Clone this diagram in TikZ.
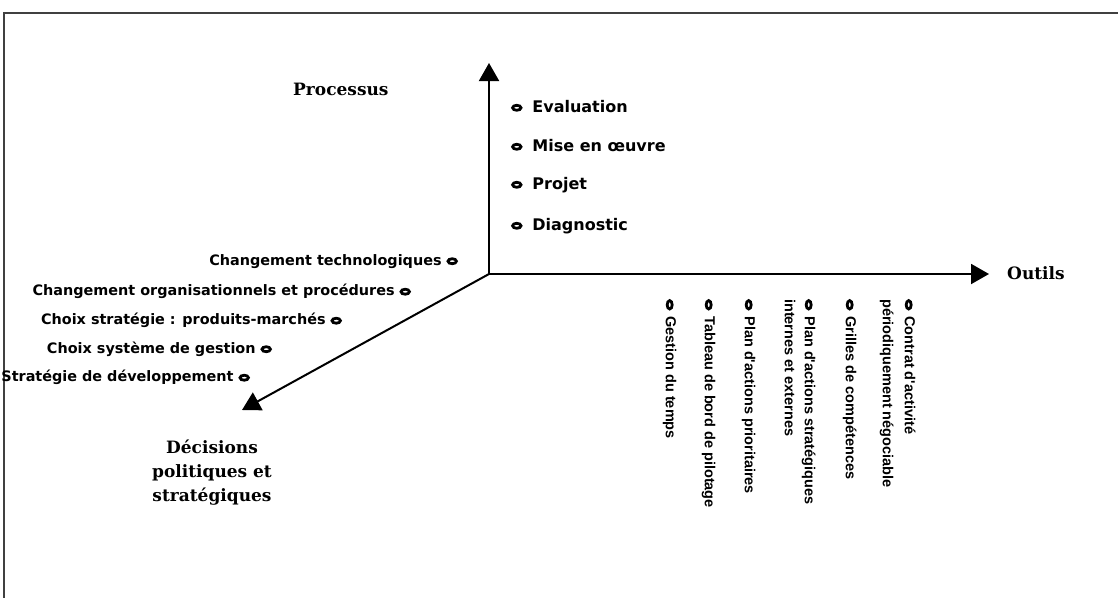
\documentclass[tikz,border=0pt]{standalone}
\usepackage{fontspec}
\usetikzlibrary{arrows.meta}
\newfontfamily\axsans{DejaVu Sans}
\newfontfamily\itsans{Liberation Sans}
\newfontfamily\axserif{DejaVu Serif}
\newcommand\bul{\tikz[baseline=-0.5ex]\draw[line width=2.8pt] (0,0) ellipse [x radius=4.2pt, y radius=2.5pt];}
\begin{document}
\begin{tikzpicture}[x=1pt,y=-1pt,
  axis/.style={line width=2pt, -{Triangle[width=20pt,length=18pt]}},
  lab/.style={font=\axserif\bfseries\fontsize{17}{24}\selectfont, inner sep=0pt},
  ritem/.style={font=\axsans\bfseries\fontsize{16}{18}\selectfont, inner sep=0pt, anchor=mid west},
  litem/.style={font=\axsans\bfseries\fontsize{14.4}{18}\selectfont, inner sep=0pt, anchor=mid east},
  vitem/.style={font=\itsans\bfseries\fontsize{14.5}{18}\selectfont, inner sep=0pt, anchor=mid west, rotate=-90},
  frame/.style={line width=1.6pt, black!75}]
\useasboundingbox (0,0) rectangle (1118,598);
% frame
\coordinate (fr1) at (1118,13);
\coordinate (fr2) at (4,13);
\coordinate (fr3) at (4,598);
\draw[frame] (fr1) -- (fr2) -- (fr3);
% axes
\coordinate (O) at (489,274);
\coordinate (P) at (489,63);
\coordinate (T) at (989,274);
\coordinate (D) at (242,410);
\draw[axis] (O) -- (P);
\draw[axis] (O) -- (T);
\draw[axis] (O) -- (D);
% axis labels
\node[lab, anchor=mid west] (proc) at (293,93) {Processus};
\node[lab, anchor=mid west] (outils) at (1007,277) {Outils};
\node[lab, anchor=north, align=center] (dec) at (212,440) {Décisions\\politiques et\\stratégiques};
% process items
\node[ritem] (ev) at (511,110) {\bul\hspace{10pt}Evaluation};
\node[ritem] (mo) at (511,149) {\bul\hspace{10pt}Mise en œuvre};
\node[ritem] (pr) at (511,187) {\bul\hspace{10pt}Projet};
\node[ritem] (di) at (511,228) {\bul\hspace{10pt}Diagnostic};
% decision items
\node[litem] (d1) at (458,263) {Changement technologiques\hspace{5pt}\bul};
\node[litem] (d2) at (411,293.5) {Changement organisationnels et procédures\hspace{5pt}\bul};
\node[litem] (d3) at (342,322.5) {Choix stratégie : produits-marchés\hspace{5pt}\bul};
\node[litem] (d4) at (272,351) {Choix système de gestion\hspace{5pt}\bul};
\node[litem] (d5) at (250,379.5) {Stratégie de développement\hspace{5pt}\bul};
% tool items
\node[vitem] (t1) at (668,299) {\bul\hspace{6pt}Gestion du temps};
\node[vitem] (t2) at (707,299) {\bul\hspace{6pt}Tableau de bord de pilotage};
\node[vitem] (t3) at (747,299) {\bul\hspace{6pt}Plan d'actions prioritaires};
\node[vitem] (t4) at (807,299) {\bul\hspace{6pt}Plan d'actions stratégiques};
\node[vitem] (t4b) at (787,299) {internes et externes};
\node[vitem] (t5) at (848,299) {\bul\hspace{6pt}Grilles de compétences};
\node[vitem] (t6) at (907,299) {\bul\hspace{6pt}Contrat d'activité};
\node[vitem] (t6b) at (885,299) {périodiquement négociable};
\end{tikzpicture}
\end{document}
